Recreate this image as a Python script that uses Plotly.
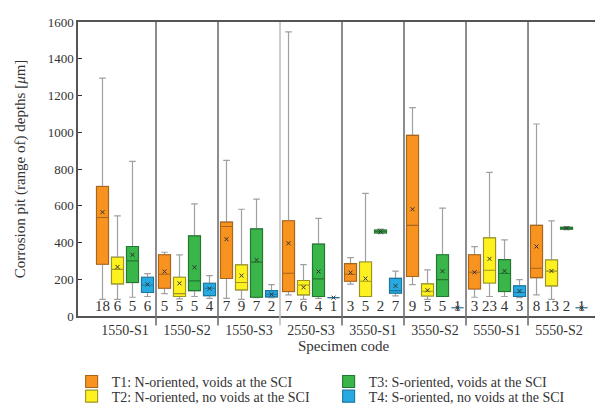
import plotly.graph_objects as go

groups = ["1550-S1", "1550-S2", "1550-S3", "2550-S3", "3550-S1", "3550-S2", "5550-S1", "5550-S2"]
type_names = ["T1: N-oriented, voids at the SCI", "T2: N-oriented, no voids at the SCI",
              "T3: S-oriented, voids at the SCI", "T4: S-oriented, no voids at the SCI"]

# statistics per type, per group (order of groups above)
t1_low = [91, 122, 96, 115, 173, 171, 102, 115]
t1_q1 = [282, 151, 204, 133, 189, 215, 147, 209]
t1_med = [536, 227, 487, 233, 227, 493, 238, 260]
t1_q3 = [705, 333, 511, 518, 285, 983, 333, 493]
t1_high = [1295, 347, 847, 1546, 318, 1134, 378, 1045]
t1_mean = [565, 242, 418, 396, 236, 581, 238, 378]
t1_n = [18, 5, 7, 7, 3, 9, 3, 8]

t2_low = [91, 93, 91, 91, 106, 91, 106, 91]
t2_q1 = [175, 106, 142, 115, 106, 109, 180, 164]
t2_med = [254, 122, 182, 169, 189, 135, 249, 244]
t2_q3 = [320, 211, 278, 193, 294, 175, 425, 305]
t2_high = [545, 333, 581, 280, 667, 251, 782, 518]
t2_mean = [267, 178, 220, 156, 204, 140, 311, 245]
t2_n = [6, 5, 9, 6, 5, 5, 23, 13]

t3_low = [102, 106, 100, 96, 448, 106, 106, 470]
t3_q1 = [182, 138, 102, 106, 452, 106, 133, 473]
t3_med = [300, 191, 293, 202, 460, 198, 231, 478]
t3_q3 = [378, 436, 474, 391, 468, 333, 307, 483]
t3_high = [841, 610, 636, 531, 473, 587, 414, 486]
t3_mean = [333, 265, 305, 242, 460, 244, 245, 478]
t3_n = [5, 5, 7, 4, 2, 5, 4, 2]

t4_low = [106, 96, 100, 100, 110, 45, 100, 45]
t4_q1 = [128, 111, 104, 100, 124, 45, 106, 45]
t4_med = [169, 151, 118, 100, 138, 45, 128, 45]
t4_q3 = [211, 178, 138, 100, 205, 45, 164, 45]
t4_high = [231, 220, 171, 100, 244, 45, 198, 45]
t4_mean = [172, 149, 118, 100, 164, 45, 136, 45]
t4_n = [6, 4, 2, 1, 7, 1, 3, 1]

y_ticks = [0, 200, 400, 600, 800, 1000, 1200, 1400, 1600]

fills = ["#F7931E", "#FFF01F", "#39B54A", "#27AAE1"]
edges = ["#A8661C", "#9C9620", "#23782F", "#1B77A0"]
offsets = [-22.5 / 62, -7.5 / 62, 7.5 / 62, 22.5 / 62]
box_w = 12 / 62
count_y = 47

series = [
    (t1_low, t1_q1, t1_med, t1_q3, t1_high, t1_mean, t1_n),
    (t2_low, t2_q1, t2_med, t2_q3, t2_high, t2_mean, t2_n),
    (t3_low, t3_q1, t3_med, t3_q3, t3_high, t3_mean, t3_n),
    (t4_low, t4_q1, t4_med, t4_q3, t4_high, t4_mean, t4_n),
]
legend_ids = ["legend", "legend2", "legend", "legend2"]

FONT = "Liberation Serif"
fig = go.Figure()

for k, (low, q1, med, q3, high, mean, n) in enumerate(series):
    xs = [g + offsets[k] for g in range(len(groups))]
    # whiskers
    fig.add_trace(go.Box(
        x=xs, q1=q1, median=med, q3=q3, lowerfence=low, upperfence=high,
        width=box_w, whiskerwidth=0.55, fillcolor="rgba(0,0,0,0)",
        line=dict(color="#A0A0A0", width=1.2), showlegend=False, hoverinfo="skip"))
    # boxes
    fig.add_trace(go.Box(
        x=xs, q1=q1, median=med, q3=q3, lowerfence=q1, upperfence=q3,
        width=box_w, whiskerwidth=0, fillcolor=fills[k],
        line=dict(color=edges[k], width=1.1), name=type_names[k],
        legend=legend_ids[k], showlegend=True))
    # means
    fig.add_trace(go.Scatter(
        x=xs, y=mean, mode="markers", showlegend=False,
        marker=dict(symbol="x-thin", size=4, line=dict(color="#333333", width=1))))
    # counts
    fig.add_trace(go.Scatter(
        x=xs, y=[count_y] * len(xs), mode="text", text=[str(v) for v in n],
        textfont=dict(family=FONT, size=15, color="#333333"), showlegend=False,
        cliponaxis=False))

x_min, x_max = -0.758, 7.806
shapes = []
for g in range(len(groups) - 1):
    xb = g + 0.5
    shapes.append(dict(
        type="line", xref="x domain", yref="paper",
        x0=(xb - x_min) / (x_max - x_min), x1=(xb - x_min) / (x_max - x_min),
        y0=-0.032, y1=1,
        line=dict(color="#C0C0C0" if g == 2 else "#707070", width=1.6)))

legend_common = dict(orientation="h", x=-0.012, xanchor="left", yanchor="middle",
                     entrywidth=212, entrywidthmode="pixels", itemwidth=30,
                     font=dict(size=14), bgcolor="rgba(0,0,0,0)")

fig.update_layout(
    width=603, height=405,
    margin=dict(l=70, r=2, t=14, b=97, autoexpand=False),
    paper_bgcolor="white", plot_bgcolor="white",
    font=dict(family=FONT, color="#333333", size=14),
    boxmode="overlay",
    shapes=shapes,
    xaxis=dict(range=[x_min, x_max], tickvals=list(range(len(groups))), ticktext=groups,
               showgrid=False, zeroline=False, ticks="", showline=True, mirror=True,
               linecolor="#555555", linewidth=1.5, tickfont=dict(size=14),
               title=dict(text="Specimen code", font=dict(size=15), standoff=3)),
    yaxis=dict(range=[0, 1600], tickvals=y_ticks, showgrid=False, zeroline=False,
               ticks="inside", ticklen=4, tickcolor="#333333", showline=True, mirror="ticks",
               linecolor="#555555", linewidth=1.5, tickfont=dict(size=13),
               title=dict(text="Corrosion pit (range of) depths [<i>μ</i>m]", font=dict(size=15), standoff=18)),
    legend=dict(y=-0.224, **legend_common),
    legend2=dict(y=-0.274, **legend_common),
)

fig.write_html("out.html")
